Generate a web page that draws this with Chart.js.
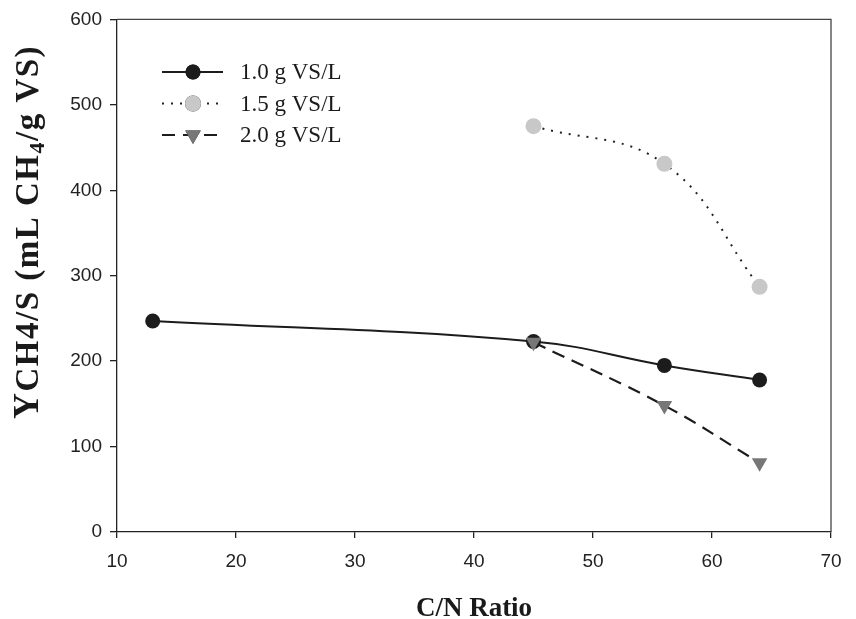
<!DOCTYPE html>
<html>
<head>
<meta charset="utf-8">
<script src="https://cdn.jsdelivr.net/npm/chart.js@4"></script>
<style>
  html, body { margin: 0; padding: 0; background: #fff; }
  #wrap { width: 856px; height: 619px; position: relative; }
</style>
</head>
<body>
<div id="wrap"><canvas id="chart" width="856" height="619"></canvas></div>
<script>
// values
const cnLow = [13, 45, 56, 64];
const cnHigh = [45, 56, 64];
const yield10 = [247, 223, 195, 178];
const yield15 = [475, 431, 287];
const yield20 = [222, 148, 81];
const seriesNames = ['1.0 g VS/L', '1.5 g VS/L', '2.0 g VS/L'];
const xTicks = [10, 20, 30, 40, 50, 60, 70];
const yTicks = [0, 100, 200, 300, 400, 500, 600];

const toPoints = (xs, ys) => xs.map((x, i) => ({ x: x, y: ys[i] }));

const serif = '"Liberation Serif", "Times New Roman", serif';
const sans = '"Liberation Sans", Arial, sans-serif';

const styles = [
  { line: '#1c1c1c', dash: [], width: 2, point: '#1c1c1c', shape: 'circle', r: 7.5, rot: 0 },
  { line: '#222', dash: [2, 7], width: 2, point: '#c8c8c8', shape: 'circle', r: 8, rot: 0 },
  { line: '#1c1c1c', dash: [13, 8], width: 2.2, point: '#777', shape: 'triangle', r: 9, rot: 180 }
];

// frame, axis titles and legend
const extras = {
  id: 'extras',
  afterDraw(chart) {
    const ctx = chart.ctx;
    const a = chart.chartArea;
    ctx.save();
    // top and right frame lines
    ctx.strokeStyle = '#444';
    ctx.lineWidth = 1.3;
    ctx.beginPath();
    ctx.moveTo(a.left, a.top);
    ctx.lineTo(a.right, a.top);
    ctx.lineTo(a.right, a.bottom);
    ctx.stroke();

    // x title
    ctx.fillStyle = '#1a1a1a';
    ctx.font = 'bold 27px ' + serif;
    ctx.textAlign = 'center';
    ctx.textBaseline = 'alphabetic';
    ctx.fillText('C/N Ratio', (a.left + a.right) / 2, 616);

    // y title with subscripts
    ctx.save();
    ctx.translate(38, 419);
    ctx.rotate(-Math.PI / 2);
    ctx.textAlign = 'left';
    ctx.letterSpacing = '1.5px';
    const parts = [
      { t: 'Y', size: 36, dy: 0 },
      { t: 'CH4/S (mL CH', size: 33, dy: 0 },
      { t: '4', size: 22, dy: 6 },
      { t: '/g VS)', size: 33, dy: 0 }
    ];
    let x = 0;
    parts.forEach(p => {
      ctx.font = 'bold ' + p.size + 'px ' + serif;
      ctx.fillText(p.t, x, p.dy);
      x += ctx.measureText(p.t).width;
    });
    ctx.restore();

    // legend
    const rows = [72, 103.5, 135];
    ctx.font = '23px ' + serif;
    ctx.textAlign = 'left';
    ctx.textBaseline = 'middle';
    seriesNames.forEach((name, i) => {
      const s = styles[i];
      const y = rows[i];
      ctx.strokeStyle = s.line;
      ctx.lineWidth = s.width;
      ctx.setLineDash(s.dash);
      ctx.beginPath();
      ctx.moveTo(162, y);
      ctx.lineTo(223, y);
      ctx.stroke();
      ctx.setLineDash([]);
      Chart.helpers.drawPoint(ctx, {
        pointStyle: s.shape, radius: s.r, rotation: s.rot, borderWidth: 0
      }, 193, y);
      ctx.fillStyle = s.point;
      ctx.fill();
      ctx.fillStyle = '#1a1a1a';
      ctx.fillText(name, 240, y + 1);
    });
    ctx.restore();
  }
};

function makeSet(i, data, order) {
  const s = styles[i];
  return {
    label: seriesNames[i],
    data: data,
    order: order,
    borderColor: s.line,
    borderWidth: s.width,
    borderDash: s.dash,
    backgroundColor: s.point,
    pointBackgroundColor: s.point,
    pointBorderColor: s.point,
    pointBorderWidth: 0,
    pointStyle: s.shape,
    pointRadius: s.r,
    pointRotation: s.rot,
    pointHoverRadius: s.r,
    tension: 0.4,
    fill: false
  };
}

new Chart(document.getElementById('chart'), {
  type: 'scatter',
  data: {
    datasets: [
      makeSet(0, toPoints(cnLow, yield10), 2),
      makeSet(1, toPoints(cnHigh, yield15), 1),
      makeSet(2, toPoints(cnHigh, yield20), 0)
    ]
  },
  options: {
    responsive: false,
    animation: false,
    showLine: true,
    layout: { padding: { top: 18, right: 25, left: 0, bottom: 0 } },
    plugins: { legend: { display: false }, tooltip: { enabled: false } },
    scales: {
      x: {
        type: 'linear',
        min: 10, max: 70,
        afterFit(scale) { scale.height = 87; },
        afterBuildTicks(scale) { scale.ticks = xTicks.map(v => ({ value: v })); },
        grid: { display: true, drawOnChartArea: false, drawTicks: true, tickLength: 6, color: '#222', lineWidth: 1.3 },
        border: { display: true, color: '#222', width: 1.3 },
        ticks: { color: '#222', font: { family: sans, size: 19 }, padding: 12 }
      },
      y: {
        type: 'linear',
        min: 0, max: 600,
        afterFit(scale) { scale.width = 117; },
        afterBuildTicks(scale) { scale.ticks = yTicks.map(v => ({ value: v })); },
        grid: { display: true, drawOnChartArea: false, drawTicks: true, tickLength: 7, color: '#222', lineWidth: 1.3 },
        border: { display: true, color: '#222', width: 1.3 },
        ticks: { color: '#222', font: { family: sans, size: 19 }, padding: 8 }
      }
    }
  },
  plugins: [extras]
});
</script>
</body>
</html>
